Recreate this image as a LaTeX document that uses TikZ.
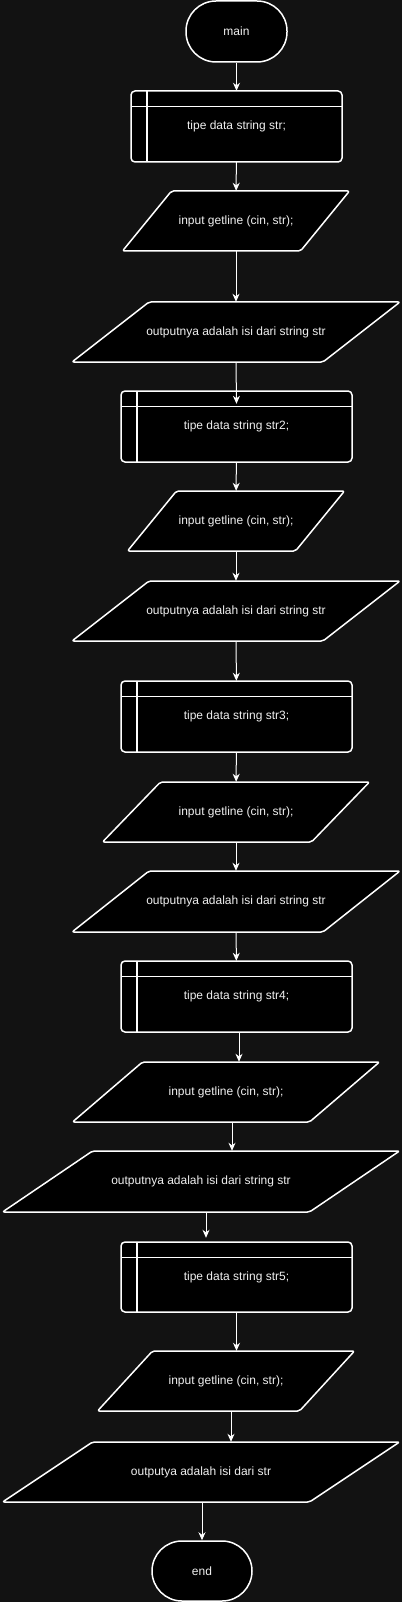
\documentclass[tikz,border=0pt]{standalone}
\usepackage{fontspec}
\setmainfont{Liberation Sans}
\usetikzlibrary{arrows.meta,calc}
\definecolor{bg}{HTML}{121212}
\definecolor{fg}{HTML}{F0F0F0}
\tikzset{
  blk/.style={inner sep=0pt, text=fg, font=\fontsize{12}{14}\selectfont},
  shp/.style={draw=white, line width=1.5pt, fill=black, line join=round},
  inl/.style={draw=white, line width=1.5pt},
  arr/.style={draw=white, line width=1pt, -{Stealth[length=8pt,width=7pt,inset=2.5pt]}},
}
% name, cx, top y, bottom y, width, skew, text
\newcommand\pgram[7]{%
  \draw[shp, rounded corners=2pt] ({#2-#5/2+#6},#3) -- ({#2+#5/2},#3) -- ({#2+#5/2-#6},#4) -- ({#2-#5/2},#4) -- cycle;
  \node[blk, minimum width=#5, minimum height={#4-#3}] (#1) at (#2,{(#3+#4)/2}) {#7};
}
% name, cx, top y, bottom y, width, text
\newcommand\pbox[6]{%
  \draw[shp, rounded corners=4pt] ({#2-#5/2},#3) rectangle ({#2+#5/2},#4);
  \draw[inl] ({#2-#5/2+16},#3) -- ({#2-#5/2+16},#4);
  \draw[inl] ({#2-#5/2},{#3+15.5}) -- ({#2+#5/2},{#3+15.5});
  \node[blk, minimum width=#5, minimum height={#4-#3}] (#1) at (#2,{(#3+#4)/2}) {#6};
}
\begin{document}
\begin{tikzpicture}[x=1pt,y=-1pt]
\fill[bg] (0,0) rectangle (402,1602);
\useasboundingbox (0,0) rectangle (402,1602);

\node[shp, blk, rounded corners=30pt, minimum width=101, minimum height=61] (main) at (236.5,31.5) {main};
\pbox{B1}{236.5}{91}{162}{211}{tipe data string str;}
\pgram{P1}{236}{191}{251}{227}{49}{input getline (cin, str);}
\pgram{P2}{236}{302}{362}{328}{77}{outputnya adalah isi dari string str}
\pbox{B2}{236.5}{391}{462}{231}{tipe data string str2;}
\pgram{P3}{236}{491}{551}{217}{49}{input getline (cin, str);}
\pgram{P4}{236}{581}{641}{328}{77}{outputnya adalah isi dari string str}
\pbox{B3}{236.5}{681}{752}{231}{tipe data string str3;}
\pgram{P5}{236}{782}{842}{267}{58}{input getline (cin, str);}
\pgram{P6}{236}{871}{932}{328}{77}{outputnya adalah isi dari string str}
\pbox{B4}{236.5}{961}{1032}{231}{tipe data string str4;}
\pgram{P7}{226}{1062}{1122}{307}{70}{input getline (cin, str);}
\pgram{P8}{201}{1151}{1212}{397}{90}{outputnya adalah isi dari string str}
\pbox{B5}{236.5}{1242}{1312}{231}{tipe data string str5;}
\pgram{P9}{226}{1351}{1411}{257}{55}{input getline (cin, str);}
\pgram{P10}{201}{1442}{1502}{397}{90}{outputya adalah isi dari str}
\node[shp, blk, rounded corners=30pt, minimum width=100, minimum height=60] (end) at (202,1571) {end};

\draw[arr] (main) -- (B1);
\draw[arr] (B1) -- (P1);
\draw[arr] (P1) -- (P2);
\draw[arr] (P2.south) -- ([yshift=-13pt]B2.north);
\draw[arr] (B2) -- (P3);
\draw[arr] (P3) -- (P4);
\draw[arr] (P4) -- (B3);
\draw[arr] (B3) -- (P5);
\draw[arr] (P5) -- (P6);
\draw[arr] (P6) -- (B4);
\draw[arr] ($(B4.south)+(2.5,0)$) -- ($(B4.south|-P7.north)+(2.5,0)$);
\draw[arr] ($(P7.south)+(6,0)$) -- ($(P7.south|-P8.north)+(6,0)$);
\draw[arr] ($(P8.south)+(5,0)$) -- ($(P8.south|-B5.north)+(5,-4)$);
\draw[arr] (B5.south) -- (B5.south|-P9.north);
\draw[arr] ($(P9.south)+(5,0)$) -- ($(P9.south|-P10.north)+(5,0)$);
\draw[arr] (end.north|-P10.south) -- (end.north);
\end{tikzpicture}
\end{document}
